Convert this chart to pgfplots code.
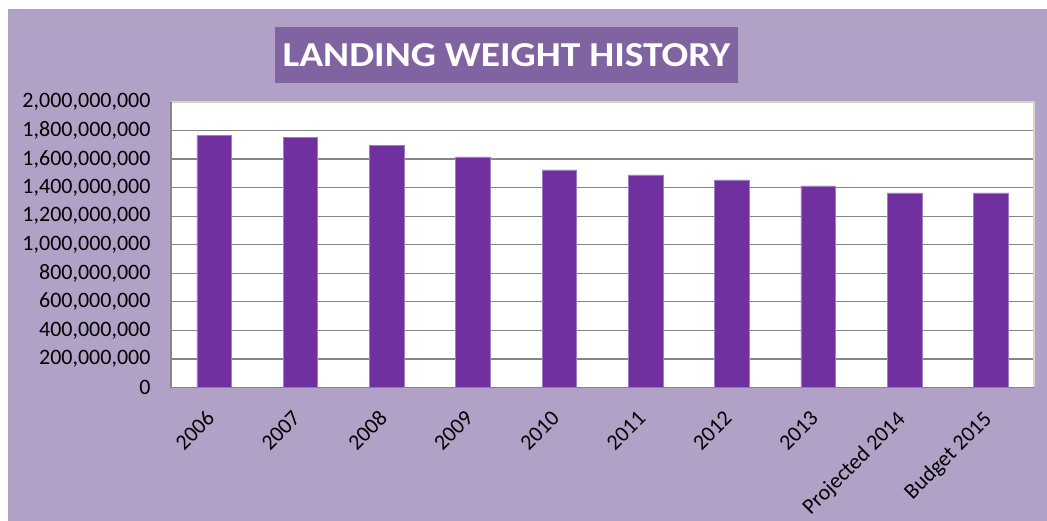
\documentclass[border=0pt]{standalone}
\usepackage{fontspec}
\setmainfont{Carlito}
\usepackage{graphicx}
\usepackage{pgfplots}
\pgfplotsset{compat=1.18}
\definecolor{bgpurple}{HTML}{B2A1C7}
\definecolor{titlepurple}{HTML}{8064A2}
\definecolor{barpurple}{HTML}{7030A0}
\definecolor{baredge}{HTML}{A07CC8}
\definecolor{gridgray}{HTML}{868686}
\definecolor{frameline}{HTML}{D8D3C8}

\begin{document}
\begin{tikzpicture}[x=1pt,y=1pt]
\useasboundingbox (0,0) rectangle (1047,521);
\fill[white] (0,0) rectangle (1047,521);
\fill[bgpurple] (8,-3) rectangle (1050,512);
% title box
\node[fill=titlepurple, text=white, font=\fontsize{35}{40}\selectfont\bfseries,
      minimum width=463pt, minimum height=56pt, inner sep=0pt]
  at (506.5,466) {\scalebox{1.13}[1]{LANDING WEIGHT HISTORY}};
\begin{axis}[
  at={(171pt,133.5pt)}, anchor=south west,
  scale only axis, width=863pt, height=285.5pt,
  ybar, bar width=34.6pt,
  xmin=-0.5, xmax=9.5, ymin=0, ymax=2000000000,
  xtick={0,1,2,3,4,5,6,7,8,9},
  xticklabels={2006,2007,2008,2009,2010,2011,2012,2013,Projected 2014,Budget 2015},
  ytick={0,200000000,400000000,600000000,800000000,1000000000,1200000000,1400000000,1600000000,1800000000,2000000000},
  scaled y ticks=false,
  /pgf/number format/fixed,
  /pgf/number format/precision=0,
  /pgf/number format/1000 sep={,},
  /pgf/number format/assume math mode=true,
  axis line style={draw=none},
  major tick length=0,
  ymajorgrids, grid style={gridgray, line width=1.2pt},
  axis background/.style={fill=white},
  tick label style={font=\fontsize{22}{25}\selectfont, text=black},
  yticklabel style={xshift=-17pt},
  xticklabel style={xshift=-9pt, yshift=-17pt, rotate=45, anchor=north east},
  clip=false,
]
\addplot[fill=barpurple, draw=baredge, line width=0.6pt] coordinates {
  (0,1764000000)
  (1,1753000000)
  (2,1697000000)
  (3,1615000000)
  (4,1524000000)
  (5,1489000000)
  (6,1454000000)
  (7,1412000000)
  (8,1363000000)
  (9,1363000000)
};
\draw[frameline, line width=1.5pt] (rel axis cs:0,1) -- (rel axis cs:1,1) -- (rel axis cs:1,0);
\draw[gridgray, line width=1.5pt] (rel axis cs:0,1) -- (rel axis cs:0,0) -- (rel axis cs:1,0);
\end{axis}
\end{tikzpicture}
\end{document}
